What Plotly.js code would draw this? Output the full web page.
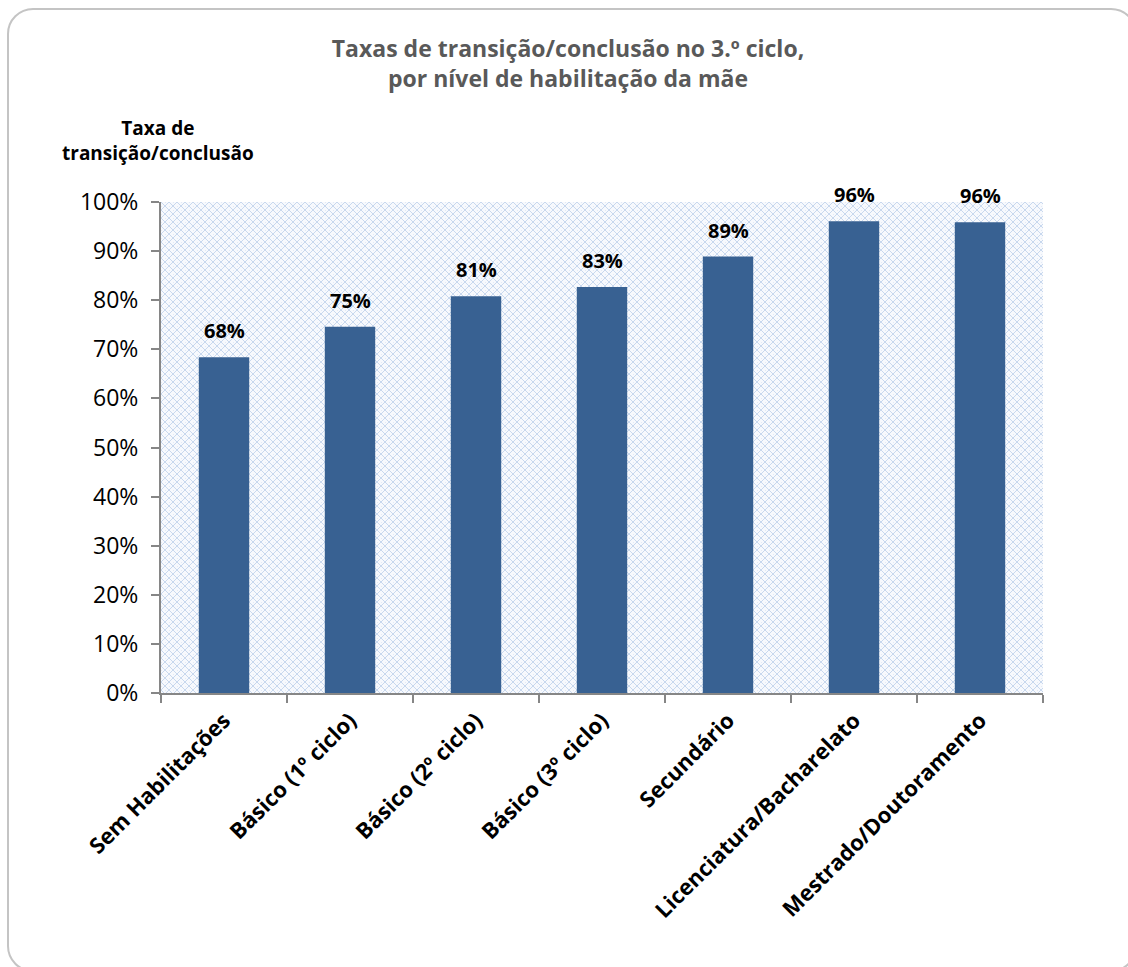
<!DOCTYPE html>
<html>
<head>
<meta charset="utf-8">
<script src="https://cdn.plot.ly/plotly-3.0.1.min.js"></script>
<style>
  html, body { margin: 0; padding: 0; background: #ffffff; }
  #wrap { position: relative; width: 1128px; height: 967px; overflow: hidden; }
  #frame { position: absolute; left: 7px; top: 8px; width: 1130px; height: 964px;
           border: 2px solid #c4c4c4; border-radius: 26px; box-sizing: border-box; }
  #pattern { position: absolute; left: 161px; top: 202px; width: 882px; height: 491px; background-color: #ffffff; }
  #chart { position: absolute; left: 0; top: 0; width: 1128px; height: 967px; }
</style>
</head>
<body>
<div id="wrap">
  <div id="frame"></div>
  <div id="pattern"></div>
  <div id="chart"></div>
</div>
<script>
const categories = ["Sem Habilitações", "Básico (1º ciclo)", "Básico (2º ciclo)", "Básico (3º ciclo)", "Secundário", "Licenciatura/Bacharelato", "Mestrado/Doutoramento"];
const rates = [0.684, 0.746, 0.808, 0.827, 0.889, 0.961, 0.959];
const yTickVals = [0, 0.1, 0.2, 0.3, 0.4, 0.5, 0.6, 0.7, 0.8, 0.9, 1.0];

const FONT = "'Open Sans', sans-serif";

// light-blue trellis pattern behind the plot area
(function () {
  const n = 8, c = "#c8d8ee", c2 = "#e2eaf6";
  let rects = "";
  for (let i = 0; i < n; i++) {
    rects += `<rect x='${i}' y='${i}' width='1' height='1' fill='${c}'/>`;
    rects += `<rect x='${n - 1 - i}' y='${i}' width='1' height='1' fill='${c}'/>`;
  }
  rects += `<rect x='0' y='4' width='1' height='1' fill='${c2}'/><rect x='4' y='0' width='1' height='1' fill='${c2}'/>`;
  const svg = `<svg xmlns='http://www.w3.org/2000/svg' width='${n}' height='${n}' shape-rendering='crispEdges'><rect width='${n}' height='${n}' fill='#f7f9fd'/>${rects}</svg>`;
  document.getElementById("pattern").style.backgroundImage = `url("data:image/svg+xml;utf8,${encodeURIComponent(svg)}")`;
})();

const trace = {
  type: "bar",
  x: categories,
  y: rates,
  width: 0.4,
  marker: { color: "#386192", line: { width: 0 } },
  hoverinfo: "none"
};

const labelAnns = categories.map((c, i) => ({
  x: c, y: rates[i], xref: "x", yref: "y",
  text: "<b>" + Math.round(rates[i] * 100) + "%</b>",
  showarrow: false, yanchor: "bottom", yshift: 11,
  font: { family: FONT, size: 20, color: "#000000" }
}));

const layout = {
  width: 1128, height: 967,
  paper_bgcolor: "rgba(0,0,0,0)",
  plot_bgcolor: "rgba(0,0,0,0)",
  margin: { l: 161, r: 85, t: 202, b: 274 },
  showlegend: false,
  title: {
    text: "<b>Taxas de transição/conclusão no 3.º ciclo,<br>por nível de habilitação da mãe</b>",
    x: 568 / 1128, xref: "container", xanchor: "center",
    y: 1 - 57 / 967, yref: "container", yanchor: "middle",
    font: { family: FONT, size: 23, color: "#595959" }
  },
  xaxis: {
    type: "category",
    tickson: "boundaries",
    ticks: "outside", ticklen: 8, tickwidth: 2, tickcolor: "#868686",
    showline: true, linecolor: "#868686", linewidth: 2,
    showgrid: false,
    tickangle: -45,
    ticklabelstandoff: 4,
    tickfont: { family: FONT, size: 22, color: "#000000", weight: "bold" }
  },
  yaxis: {
    range: [0, 1],
    tickvals: yTickVals,
    tickformat: ".0%",
    ticks: "outside", ticklen: 8, tickwidth: 2, tickcolor: "#868686",
    showline: true, linecolor: "#868686", linewidth: 2,
    showgrid: false, zeroline: false,
    ticklabelstandoff: 8,
    tickfont: { family: FONT, size: 23, color: "#000000" }
  },
  annotations: labelAnns.concat([{
    text: "<b>Taxa de<br>transição/conclusão</b>",
    xref: "paper", yref: "paper",
    x: (158 - 161) / 882, y: 1 + (202 - 140) / 491,
    xanchor: "center", yanchor: "middle", showarrow: false,
    font: { family: FONT, size: 19, color: "#000000" }
  }])
};

Plotly.newPlot("chart", [trace], layout, { displayModeBar: false, staticPlot: true });
</script>
</body>
</html>
